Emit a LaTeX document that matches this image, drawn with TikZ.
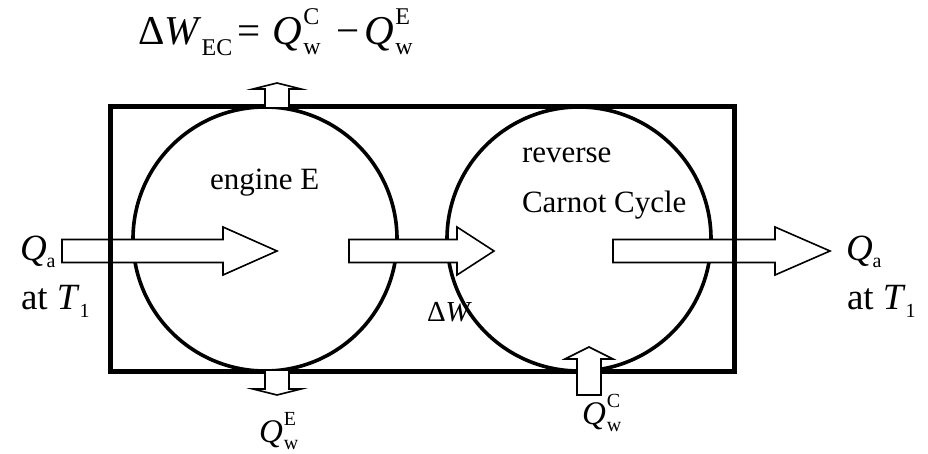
\documentclass[tikz,border=0pt]{standalone}
\usepackage{fontspec}
\setmainfont{Liberation Serif}
\newcommand{\fsz}[1]{\fontsize{#1}{#1}\selectfont}
% Q with stacked superscript #1 and subscript #2, script size #3
\newcommand{\QSS}[3]{\textit{Q}\kern0.03em\rlap{\raisebox{.5em}{\fsz{#3}#1}}\raisebox{-.22em}{\fsz{#3}#2}}
\tikzset{
  lbl/.style={anchor=base west, inner sep=0pt, outer sep=0pt},
  frame/.style={draw=black, line width=5pt},
  cyc/.style={draw=black, line width=3.6pt},
  blockarrow/.style={draw=black, fill=white, line width=1.6pt, line join=miter}
}
\begin{document}
\begin{tikzpicture}[x=1pt,y=-1pt]
\useasboundingbox (0,0) rectangle (928,454);
% cycles
\draw[cyc] (265,239) circle[radius=132];
\draw[cyc] (579,239) circle[radius=132];
% big arrows
\draw[blockarrow] (62,239.5) -- (223,239.5) -- (223,227) -- (277,251) -- (223,275) -- (223,262.5) -- (62,262.5) -- cycle;
\draw[blockarrow] (349,239.5) -- (457,239.5) -- (457,227) -- (494,251) -- (457,275) -- (457,262.5) -- (349,262.5) -- cycle;
\draw[blockarrow] (613,239.5) -- (775,239.5) -- (775,227) -- (830,251) -- (775,275) -- (775,262.5) -- (613,262.5) -- cycle;
% frame
\draw[frame] (110,107) rectangle (734,371);
% small arrows
\draw[blockarrow] (265,107) -- (265,89) -- (253,89) -- (277,83) -- (301,89) -- (289,89) -- (289,107);
\draw[blockarrow] (265,371) -- (265,389) -- (253,389) -- (277,395) -- (301,389) -- (289,389) -- (289,371);
\draw[blockarrow] (577,395) -- (577,359) -- (565,359) -- (589,347) -- (613,359) -- (601,359) -- (601,395) -- cycle;
% labels
\node[lbl] (title) at (138,45) {\fsz{41}Δ\textit{W}\raisebox{-.25em}{\fsz{24}EC}\kern0.12em=\kern0.3em\QSS{C}{w}{24}\kern0.38em−\kern0.12em\QSS{E}{w}{24}};
\node[lbl] (eng) at (210,190) {\fsz{31}engine E};
\node[lbl] (rev) at (522,163) {\fsz{31}reverse};
\node[lbl] (car) at (522,213) {\fsz{31}Carnot Cycle};
\node[lbl] (qal) at (20,260) {\fsz{37}\textit{Q}\raisebox{-.2em}{\fsz{20}a}};
\node[lbl] (atl) at (21,309) {\fsz{37}at \textit{T}\raisebox{-.22em}{\fsz{20}1}};
\node[lbl] (qar) at (846,260) {\fsz{37}\textit{Q}\raisebox{-.2em}{\fsz{20}a}};
\node[lbl] (atr) at (847,309) {\fsz{37}at \textit{T}\raisebox{-.22em}{\fsz{20}1}};
\node[lbl] (dw) at (427,321) {\fsz{29}Δ\textit{W}};
\node[lbl] (qwe) at (259,442) {\fsz{33}\QSS{E}{w}{20}};
\node[lbl] (qwc) at (582,424) {\fsz{33}\QSS{C}{w}{20}};
\end{tikzpicture}
\end{document}
